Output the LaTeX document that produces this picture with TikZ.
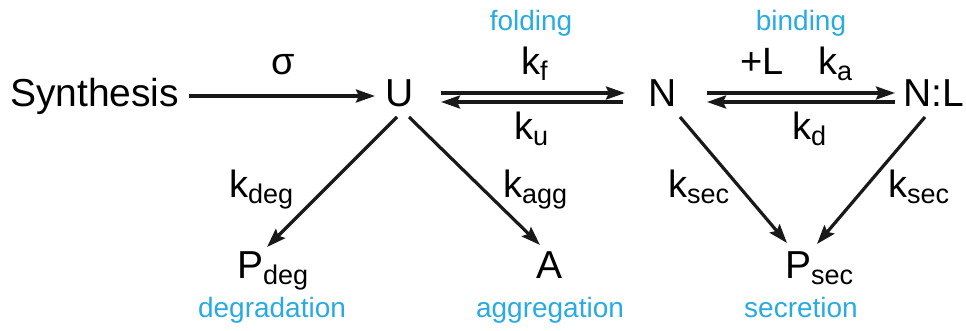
\documentclass[tikz,border=0pt]{standalone}
\usepackage{fontspec}
\setmainfont{Liberation Sans}
\usetikzlibrary{arrows.meta,calc}
\definecolor{procblue}{RGB}{41,171,226}
\newcommand\mysub[1]{\raisebox{-6pt}{\fontsize{27}{27}\selectfont #1}}
\begin{document}
\begin{tikzpicture}[x=1pt,y=-1pt,
  every node/.style={inner sep=0pt,outer sep=0pt},
  species/.style={font=\fontsize{39}{39}\selectfont,anchor=base},
  rate/.style={font=\fontsize{38}{38}\selectfont,anchor=base},
  proc/.style={font=\fontsize{28}{28}\selectfont,text=procblue,anchor=base},
  conn/.style={line width=3.2pt,draw=black!90,-{Stealth[length=19pt,width=13pt,inset=3pt]}}]
\useasboundingbox (0,0) rectangle (966,331);
% species
\node[species,anchor=base west] (Syn) at (10,107) {Synthesis};
\node[species] (U) at (400,107) {U};
\node[species] (N) at (663,107) {N};
\node[species,anchor=base west] (NL) at (903,107) {N:L};
\node[species,anchor=base west] (Pdeg) at (237,278) {P\mysub{deg}};
\node[species] (A) at (549,278) {A};
\node[species,anchor=base west] (Psec) at (785,278) {P\mysub{sec}};
% rate labels
\node[rate] (sigma) at (283,75) {σ};
\node[rate,anchor=base west] (kf) at (521,75) {k\mysub{f}};
\node[rate,anchor=base west] (ku) at (514,140) {k\mysub{u}};
\node[rate] (plusL) at (762,75) {+L};
\node[rate,anchor=base west] (ka) at (818,75) {k\mysub{a}};
\node[rate,anchor=base west] (kd) at (792,140) {k\mysub{d}};
\node[rate,anchor=base west] (kdeg) at (229,197) {k\mysub{deg}};
\node[rate,anchor=base west] (kagg) at (503,197) {k\mysub{agg}};
\node[rate,anchor=base west] (ksecl) at (668,197) {k\mysub{sec}};
\node[rate,anchor=base west] (ksecr) at (888,197) {k\mysub{sec}};
% process labels
\node[proc] (folding) at (531,31) {folding};
\node[proc] (binding) at (801,31) {binding};
\node[proc] (degr) at (272,317) {degradation};
\node[proc] (aggr) at (550,317) {aggregation};
\node[proc] (secr) at (801,317) {secretion};
% connectors
\draw[conn] ($(Syn.base east)+(10,-11)$) -- ($(U.base)+(-25,-11)$);
\draw[conn] ($(U.base)+(41,-14)$) -- ($(N.base)+(-38,-14)$);
\draw[conn] ($(N.base)+(-40,-5)$) -- ($(U.base)+(41,-5)$);
\draw[conn] ($(N.base)+(44,-14)$) -- ($(NL.base west)+(-8,-14)$);
\draw[conn] ($(NL.base west)+(-8,-5)$) -- ($(N.base)+(44,-5)$);
\draw[conn] ($(U.base)+(-3,10)$) -- ($(Pdeg.base west)+(30,-31)$);
\draw[conn] ($(U.base)+(9,10)$) -- ($(A.base)+(-9,-33)$);
\draw[conn] ($(N.base)+(17,10)$) -- ($(Psec.base west)+(2,-35)$);
\draw[conn] ($(NL.base west)+(22,10)$) -- ($(Psec.base west)+(32,-34)$);
\end{tikzpicture}
\end{document}
